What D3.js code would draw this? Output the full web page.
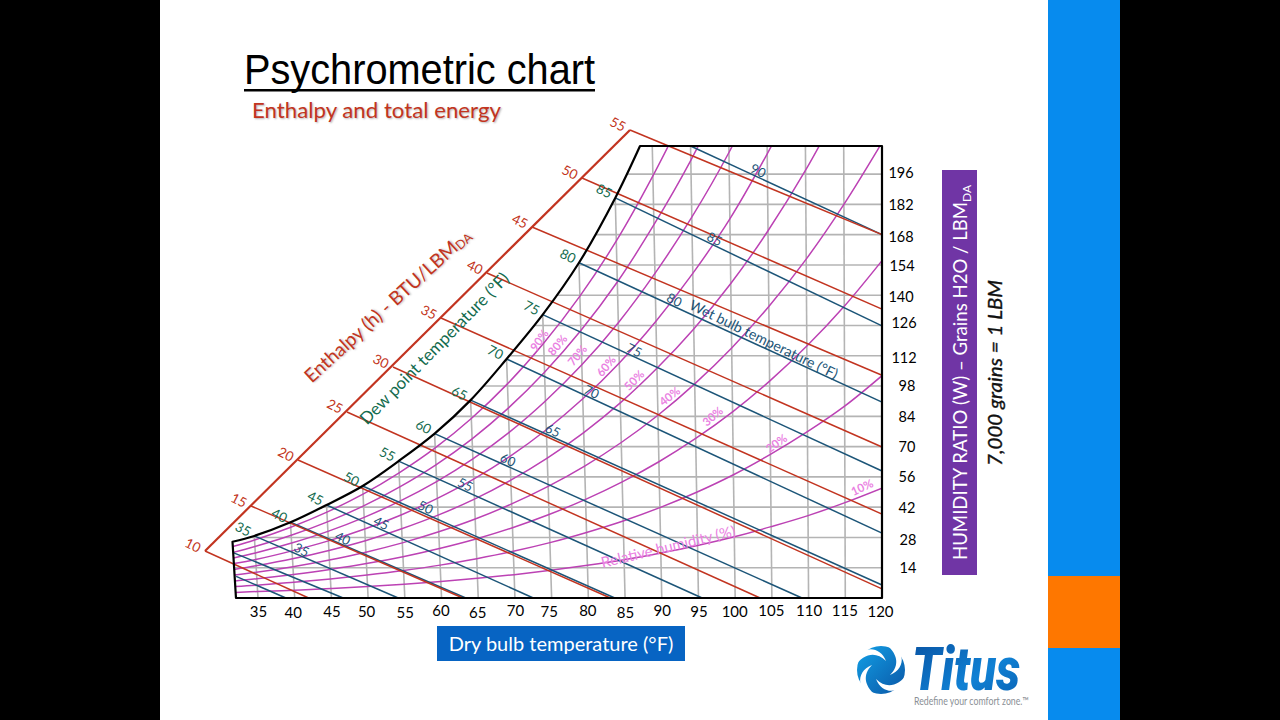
<!DOCTYPE html>
<html>
<head>
<meta charset="utf-8">
<script src="https://cdn.jsdelivr.net/npm/d3@7"></script>
<style>
  html, body { margin: 0; padding: 0; background: #000; }
  svg { display: block; }
  text { font-family: Lato, "Open Sans", sans-serif; }
</style>
</head>
<body>
<svg id="chart" width="1280" height="720"></svg>
<script>
// Dry bulb temperature (°F) and humidity ratio (grains per lb of dry air)
const dryBulbTicks = [35, 40, 45, 50, 55, 60, 65, 70, 75, 80, 85, 90, 95, 100, 105, 110, 115, 120];
const humidityTicks = [14, 28, 42, 56, 70, 84, 98, 112, 126, 140, 154, 168, 182, 196];

// Saturation curve (100% RH)
const saturationT = [32, 35, 40, 45, 50, 55, 60, 65, 70, 75, 80, 85, 88.4];
const saturationW = [26, 28.7, 35, 43, 51.8, 63.3, 76, 91.5, 110.5, 131, 155, 185, 209];

// Relative humidity curves, humidity ratio sampled along rhT
const rhT = [32, 35, 40, 45, 50, 55, 60, 65, 70, 75, 80, 85, 90, 95, 100, 105, 110, 115, 120];
const rh10 = [2.6, 3.0, 3.6, 4.4, 5.3, 6.4, 7.6, 9.1, 10.8, 12.8, 15.1, 17.7, 20.8, 24.3, 28.3, 33, 38.1, 44.1, 50.8];
const rh20 = [5.3, 5.9, 7.3, 8.8, 10.6, 12.7, 15.2, 18.2, 21.6, 25.6, 30.3, 35.6, 41.8, 48.9, 57, 66.4, 76.9, 88.7, 102.8];
const rh30 = [7.9, 8.9, 10.9, 13.2, 15.9, 19.1, 22.9, 27.3, 32.5, 38.6, 45.6, 53.7, 63, 73.8, 86.1, 100.3, 116.5, 134.9, 156];
const rh40 = [10.6, 11.9, 14.5, 17.6, 21.2, 25.5, 30.6, 36.5, 43.5, 51.6, 61, 71.9, 84.5, 99, 115.6, 134.8, 156.7, 182, 210.6];
const rh50 = [13.2, 14.9, 18.1, 22, 26.5, 32, 38.3, 45.7, 54.5, 64.7, 76.5, 90.2, 106.2, 124.4, 145.4, 169.8, 197.8, 230];
const rh60 = [15.9, 17.8, 21.8, 26.4, 31.9, 38.4, 46.1, 55, 65.5, 77.8, 92.1, 108.7, 128, 150.1, 175.3, 205.4, 239];
const rh70 = [18.5, 20.8, 25.4, 30.8, 37.3, 44.9, 53.8, 64.3, 76.6, 91.1, 107.8, 127.3, 150.1, 176.1, 206, 241.5];
const rh80 = [21.1, 23.8, 29, 35.2, 42.6, 51.4, 61.6, 73.6, 87.8, 104.4, 123.7, 146.1, 172.6, 202.4, 237];
const rh90 = [23.8, 26.8, 32.7, 39.7, 48, 57.9, 69.4, 83, 99, 117.8, 139.6, 165.1, 195.2, 229];
const rhLevels = [10, 20, 30, 40, 50, 60, 70, 80, 90];
const rhSeries = [rh10, rh20, rh30, rh40, rh50, rh60, rh70, rh80, rh90];
const rhLabelT = [117.3, 105.8, 97.3, 91.6, 86.9, 83.2, 79.4, 76.8, 74.4];
const rhLabelW = [51.3, 71.7, 84.1, 93.4, 100.8, 107.3, 112.3, 117, 119.3];
const rhLabelAngle = [-25, -35, -40, -38, -45, -50, -50, -50, -55];

// Wet bulb lines: where each leaves the saturation curve or frame, and where it ends
const wetBulbTemps = [25, 30, 35, 40, 45, 50, 55, 60, 65, 70, 75, 80, 85, 90];
const wetBulbStartT = [32.2, 32, 35, 40, 45, 50, 55, 60, 65, 70, 75, 80, 85, 95];
const wetBulbStartW = [10, 21, 28.7, 35, 43, 51.8, 63.3, 76, 91.5, 110.5, 131, 155, 185, 209];
const wetBulbEndT = [38.8, 46.6, 54.1, 63.3, 72.5, 83.6, 95.5, 109.1, 120, 120, 120, 120, 120, 120];
const wetBulbEndW = [0, 0, 0, 0, 0, 0, 0, 0, 6, 30, 58.7, 90.6, 125.8, 168];
// Inline captions, as a share of the line's length; the two shortest lines carry none
const wetBulbLabelShare = [null, null, 0.33, 0.30, 0.266, 0.25, 0.22, 0.2, 0.2, 0.227, 0.27, 0.315, 0.373, 0.354];

// Enthalpy lines (BTU per lb of dry air), running from the enthalpy scale
const enthalpyValues = [10, 15, 20, 25, 30, 35, 40, 45, 50, 55];
const enthalpyEndT = [41.9, 62.9, 83, 103.4, 120, 120, 120, 120, 120, 120];
const enthalpyEndW = [0, 0, 0, 0, 4.2, 38.8, 69.8, 103, 133.6, 168];

// Small hand-set shifts of the printed tick labels
const xTickShiftX = [0, -2, 0, -2, 0, -1, -1, 0, -3, -1, 0, 0, 0, -1, -1, 0, -1, -2];
const xTickShiftY = [0, 1, 0, 0, 1, -1, 1, -1, 0, -1, 1, -1, 0, 0, -1, -1, -1, 0];
const yTickShiftX = [7, 7, 6, 6, 6, 6, 6, 3, 3, 0, 1, 0, 0, 0];
const yTickShiftY = [0, 2, 0, 0, 0, 0, -1, 2, -3, 1, 1, 2, 0, -2];

const BLACK = "#000", GRID = "#b4b4b4", RH = "#bc42b4", RH_TEXT = "#ea82e2",
      WET = "#1c5578", RED = "#c23420", GREEN = "#136b4e";

const svg = d3.select("#chart");

// Slide furniture
svg.append("rect").attr("width", 1280).attr("height", 720).attr("fill", "#000");
svg.append("rect").attr("x", 160).attr("width", 888).attr("height", 720).attr("fill", "#fff");
svg.append("rect").attr("x", 1048).attr("width", 72).attr("height", 720).attr("fill", "#078bee");
svg.append("rect").attr("x", 1048).attr("y", 576).attr("width", 72).attr("height", 72).attr("fill", "#fe7700");

svg.append("text").attr("x", 244).attr("y", 84).text("Psychrometric chart")
  .style("font-family", "'Liberation Sans'").attr("font-size", 42)
  .attr("textLength", 351).attr("lengthAdjust", "spacingAndGlyphs").attr("fill", "#000");
svg.append("rect").attr("x", 244).attr("y", 89).attr("width", 351).attr("height", 2.5).attr("fill", "#000");
svg.append("text").attr("x", 252).attr("y", 118).text("Enthalpy and total energy")
  .attr("font-size", 22).attr("textLength", 249).attr("lengthAdjust", "spacingAndGlyphs")
  .attr("fill", RED).style("text-shadow", "1px 1px 2px rgba(0,0,0,.3)");

// Scales: the dry bulb lines fan slightly, leaning left as humidity rises
const xScale = d3.scaleLinear().domain([35, 120]).range([258, 882]);
const yScale = d3.scaleLinear().domain([0, 209]).range([598, 146]);
const fan = 0.0007;
const px = (t, w) => xScale(t) - fan * (120 - t) * (yScale(0) - yScale(w));
const py = w => yScale(w);
const enthalpyX = d3.scaleLinear().domain(enthalpyValues).range([205, 251, 298, 347, 393, 441, 487, 532, 582, 630]);
const enthalpyY = d3.scaleLinear().domain(enthalpyValues).range([551, 506, 460, 412, 367, 318, 273, 227, 178, 130]);

const satPoints = saturationT.map((t, i) => [px(t, saturationW[i]), py(saturationW[i])]);
const satCurve = d3.line().curve(d3.curveCatmullRom.alpha(0.5));
const satPath = satCurve(satPoints);

// Plot area clip: saturation curve on the upper left, frame elsewhere
const framePath = satPath + `L${px(120, 209)},${py(209)}L${px(120, 0)},${py(0)}L${px(32, 0)},${py(0)}Z`;
svg.append("clipPath").attr("id", "plot-clip").append("path").attr("d", framePath);

const plot = svg.append("g").attr("clip-path", "url(#plot-clip)");

// Grid
plot.append("g").selectAll("line").data(dryBulbTicks).join("line")
  .attr("x1", d => px(d, 0)).attr("y1", py(0))
  .attr("x2", d => px(d, 209)).attr("y2", py(209))
  .attr("stroke", GRID).attr("stroke-width", 1.6);
plot.append("g").selectAll("line").data(humidityTicks).join("line")
  .attr("x1", xScale(30)).attr("x2", xScale(120))
  .attr("y1", d => py(d)).attr("y2", d => py(d))
  .attr("stroke", GRID).attr("stroke-width", 1.6);

// Relative humidity curves
const rhLine = d3.line().x(d => d[0]).y(d => d[1]).curve(d3.curveCatmullRom.alpha(0.5));
plot.append("g").selectAll("path").data(rhSeries).join("path")
  .attr("d", s => rhLine(s.map((w, i) => [px(rhT[i], w), py(w)])))
  .attr("fill", "none").attr("stroke", RH).attr("stroke-width", 1.5);

// Wet bulb lines
svg.append("g").selectAll("line").data(wetBulbTemps).join("line")
  .attr("x1", (d, i) => px(wetBulbStartT[i], wetBulbStartW[i]))
  .attr("y1", (d, i) => py(wetBulbStartW[i]))
  .attr("x2", (d, i) => px(wetBulbEndT[i], wetBulbEndW[i]))
  .attr("y2", (d, i) => py(wetBulbEndW[i]))
  .attr("stroke", WET).attr("stroke-width", 1.5);

// Enthalpy scale and lines
svg.append("line")
  .attr("x1", enthalpyX(10)).attr("y1", enthalpyY(10))
  .attr("x2", enthalpyX(55)).attr("y2", enthalpyY(55))
  .attr("stroke", RED).attr("stroke-width", 2.2);
svg.append("g").selectAll("line").data(enthalpyValues).join("line")
  .attr("x1", d => enthalpyX(d)).attr("y1", d => enthalpyY(d))
  .attr("x2", (d, i) => px(enthalpyEndT[i], enthalpyEndW[i]))
  .attr("y2", (d, i) => py(enthalpyEndW[i]))
  .attr("stroke", RED).attr("stroke-width", 1.5);

// Saturation curve and frame
svg.append("path").attr("d", framePath).attr("fill", "none")
  .attr("stroke", BLACK).attr("stroke-width", 2.2).attr("stroke-linejoin", "round");

// Rotated captions
function tilted(g, x, y, angle, str, size, fill) {
  return g.append("text")
    .attr("transform", `translate(${x},${y}) rotate(${angle})`)
    .attr("text-anchor", "middle").attr("dominant-baseline", "central")
    .attr("font-size", size).attr("fill", fill).text(str);
}
const labels = svg.append("g");

enthalpyValues.forEach(v =>
  tilted(labels, enthalpyX(v) - 12, enthalpyY(v) - 6, 27, v, 13.5, RED));

saturationT.forEach((t, i) => {
  if (t >= 35 && t <= 85) tilted(labels, satPoints[i][0] - 11, satPoints[i][1] - 7, 27, t, 13.5, GREEN);
});

wetBulbTemps.forEach((wb, i) => {
  const share = wetBulbLabelShare[i];
  if (share === null) return;
  const x0 = px(wetBulbStartT[i], wetBulbStartW[i]), y0 = py(wetBulbStartW[i]);
  const x1 = px(wetBulbEndT[i], wetBulbEndW[i]), y1 = py(wetBulbEndW[i]);
  tilted(labels, x0 + (x1 - x0) * share, y0 + (y1 - y0) * share - 7, 26, wb, 13, WET);
});

rhLevels.forEach((level, i) =>
  tilted(labels, px(rhLabelT[i], rhLabelW[i]), py(rhLabelW[i]), rhLabelAngle[i], level + "%", 11.5, RH_TEXT)
    .attr("font-weight", 700));

tilted(labels, 434, 348, -45.6, "Dew point temperature (°F)", 17, GREEN);
tilted(labels, 764, 339, 25.8, "Wet bulb temperature (°F)", 14.2, WET);
tilted(labels, 668, 546, -13.5, "Relative humidity (%)", 15, RH_TEXT);

const enth = tilted(labels, 387, 305, -42.3, "Enthalpy (h) - BTU/LBM", 19, RED)
  .style("text-shadow", "1px 1px 2px rgba(0,0,0,.25)");
enth.append("tspan").attr("dy", 4).attr("font-size", 12.5).text("DA");

// Axes
const xAxis = d3.axisBottom(xScale).tickValues(dryBulbTicks).tickSize(0).tickPadding(7);
const gx = svg.append("g").attr("transform", `translate(0,${yScale(0)})`).call(xAxis);
gx.select(".domain").remove();
gx.selectAll("text").style("font-family", "Lato").attr("font-size", 15).attr("fill", "#000")
  .attr("dx", (d, i) => xTickShiftX[i]).attr("dy", (d, i) => 12 + xTickShiftY[i]);

const yAxis = d3.axisRight(yScale).tickValues(humidityTicks).tickSize(0);
const gy = svg.append("g").attr("transform", "translate(901,0)").call(yAxis);
gy.select(".domain").remove();
gy.selectAll("text").style("font-family", "Lato").attr("font-size", 14.5).attr("fill", "#000")
  .attr("x", (d, i) => yTickShiftX[i]).attr("text-anchor", "middle")
  .attr("dy", (d, i) => 5 + yTickShiftY[i]);

// Axis captions
svg.append("rect").attr("x", 437).attr("y", 626).attr("width", 248).attr("height", 35).attr("fill", "#0764c3");
svg.append("text").attr("x", 561).attr("y", 651).attr("text-anchor", "middle")
  .attr("font-size", 20).attr("fill", "#fff").text("Dry bulb temperature (°F)");

svg.append("rect").attr("x", 942).attr("y", 170).attr("width", 35).attr("height", 405).attr("fill", "#7035a5");
const hum = svg.append("text").attr("transform", "translate(967,560) rotate(-90)")
  .attr("font-size", 18.6).attr("fill", "#fff").text("HUMIDITY RATIO (W) – Grains H2O / LBM");
hum.append("tspan").attr("dy", 4).attr("font-size", 12).text("DA");

svg.append("text").attr("transform", "translate(1002,466) rotate(-90)")
  .attr("font-size", 20).attr("font-style", "italic").attr("stroke", "#111").attr("stroke-width", 0.35)
  .attr("textLength", 186).attr("lengthAdjust", "spacingAndGlyphs").attr("fill", "#111")
  .text("7,000 grains = 1 LBM");

// Company mark
const defs = svg.append("defs");
const grad = defs.append("linearGradient").attr("id", "mark-blue")
  .attr("x1", 0).attr("y1", 0).attr("x2", 1).attr("y2", 1);
grad.append("stop").attr("offset", 0).attr("stop-color", "#12a0e6");
grad.append("stop").attr("offset", 1).attr("stop-color", "#0a56a6");
const wordGrad = defs.append("linearGradient").attr("id", "word-blue")
  .attr("x1", 0).attr("y1", 0).attr("x2", 1).attr("y2", 1);
wordGrad.append("stop").attr("offset", 0).attr("stop-color", "#084f9f");
wordGrad.append("stop").attr("offset", 0.6).attr("stop-color", "#1081d4");
wordGrad.append("stop").attr("offset", 1).attr("stop-color", "#0a5fb0");

const swirl = svg.append("g").attr("transform", "translate(881,670)");
swirl.append("circle").attr("r", 24).attr("fill", "url(#mark-blue)");
swirl.selectAll("path").data([0, 90, 180, 270]).join("path")
  .attr("d", "M3,-27 C24,-24 27,-2 9,5 C19,-5 17,-17 3,-27 Z")
  .attr("transform", d => `rotate(${d})`)
  .attr("fill", "#fff");

svg.append("text").attr("x", 912).attr("y", 690).text("Titus")
  .style("font-family", "Roboto").attr("font-size", 60).attr("font-weight", 900).attr("font-style", "italic")
  .attr("textLength", 108).attr("lengthAdjust", "spacingAndGlyphs").attr("fill", "url(#word-blue)");
svg.append("text").attr("x", 914).attr("y", 705).text("Redefine your comfort zone.™")
  .attr("font-size", 11).attr("textLength", 115).attr("lengthAdjust", "spacingAndGlyphs").attr("fill", "#8b9096");
</script>
</body>
</html>
